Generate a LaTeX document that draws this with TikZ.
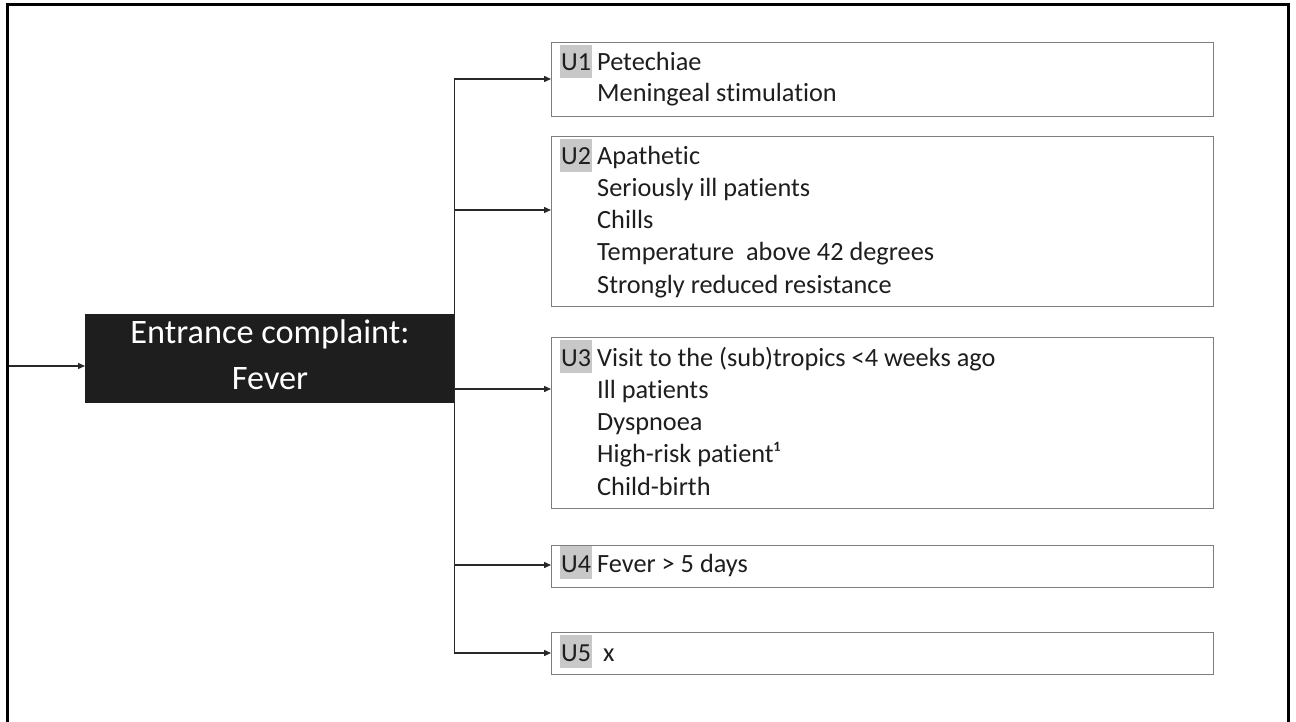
\documentclass[tikz,border=0pt]{standalone}
\usepackage{fontspec}
\setmainfont{Carlito}[Ligatures=NoCommon]
\usetikzlibrary{arrows.meta}
\definecolor{boxgray}{RGB}{125,125,125}
\definecolor{taggray}{RGB}{200,200,200}
\definecolor{ecfill}{RGB}{30,30,30}
\definecolor{linecol}{RGB}{40,40,40}
\definecolor{txt}{RGB}{30,30,30}

\begin{document}
\begin{tikzpicture}[x=1pt,y=-1pt,
  ubox/.style={draw=boxgray, line width=1.3pt, fill=white, anchor=north west,
               minimum width=662pt, inner sep=0pt},
  utag/.style={fill=taggray, anchor=base west, inner xsep=1pt, inner ysep=0pt,
               text height=26pt, text depth=7pt, font=\fontsize{26}{32}\selectfont, text=txt},
  uline/.style={anchor=base west, inner sep=0pt, font=\fontsize{26.3}{32}\selectfont, text=txt},
  ectext/.style={anchor=base, inner sep=0pt, text=white, font=\fontsize{34.3}{46}\selectfont},
  conn/.style={draw=linecol, line width=1.4pt},
  arr/.style={conn, -{Triangle[length=7pt,width=6pt]}}
]
\useasboundingbox (0,0) rectangle (1296,722);

% outer frame, open at the bottom
\draw[line width=2.2pt] (7.5,722) -- (7.5,4.5) -- (1288.5,4.5) -- (1288.5,722);

% entrance complaint block
\node[fill=ecfill, anchor=north west, minimum width=369pt, minimum height=89pt, inner sep=0pt] (ec) at (85,314) {};
\node[ectext] (ec1) at (270,343) {Entrance complaint:};
\node[ectext] (ec2) at (270,389) {Fever};

% urgency boxes
\node[ubox, minimum height=74pt]  (u1) at (551,42)  {};
\node[ubox, minimum height=170pt] (u2) at (551,136) {};
\node[ubox, minimum height=171pt] (u3) at (551,337) {};
\node[ubox, minimum height=42pt]  (u4) at (551,545) {};
\node[ubox, minimum height=42pt]  (u5) at (551,632) {};

% urgency tags
\node[utag] (t1) at (560,71)  {U1};
\node[utag] (t2) at (560,165) {U2};
\node[utag] (t3) at (560,366) {U3};
\node[utag] (t4) at (560,572) {U4};
\node[utag] (t5) at (560,661) {U5};

% criteria
\node[uline] (u1a) at (597,71)  {Petechiae};
\node[uline] (u1b) at (597,102) {Meningeal stimulation};

\node[uline] (u2a) at (597,165) {Apathetic};
\node[uline] (u2b) at (597,197) {Seriously ill patients};
\node[uline] (u2c) at (597,229) {Chills};
\node[uline] (u2d) at (597,261) {Temperature\ \ above 42 degrees};
\node[uline] (u2e) at (597,293) {Strongly reduced resistance};

\node[uline] (u3a) at (597,366) {Visit to the (sub)tropics <4 weeks ago};
\node[uline] (u3b) at (597,398) {Ill patients};
\node[uline] (u3c) at (597,430) {Dyspnoea};
\node[uline] (u3d) at (597,462) {High-risk patient¹};
\node[uline] (u3e) at (597,495) {Child-birth};

\node[uline] (u4a) at (597,572) {Fever > 5 days};
\node[uline] (u5a) at (603,661) {x};

% connectors
\coordinate (src) at (8.6,366);
\draw[arr] (src) -- (src -| ec.west);

\coordinate (j1) at (ec.east |- 0,79);
\coordinate (j2) at (ec.east |- 0,210);
\coordinate (j3) at (ec.east |- 0,389);
\coordinate (j4) at (ec.east |- 0,565);
\coordinate (j5) at (ec.east |- 0,653);
\draw[conn, line cap=rect] (j1) -- (j5);
\foreach \i in {1,...,5} \draw[arr] (j\i) -- (j\i -| u\i.west);
\end{tikzpicture}
\end{document}
